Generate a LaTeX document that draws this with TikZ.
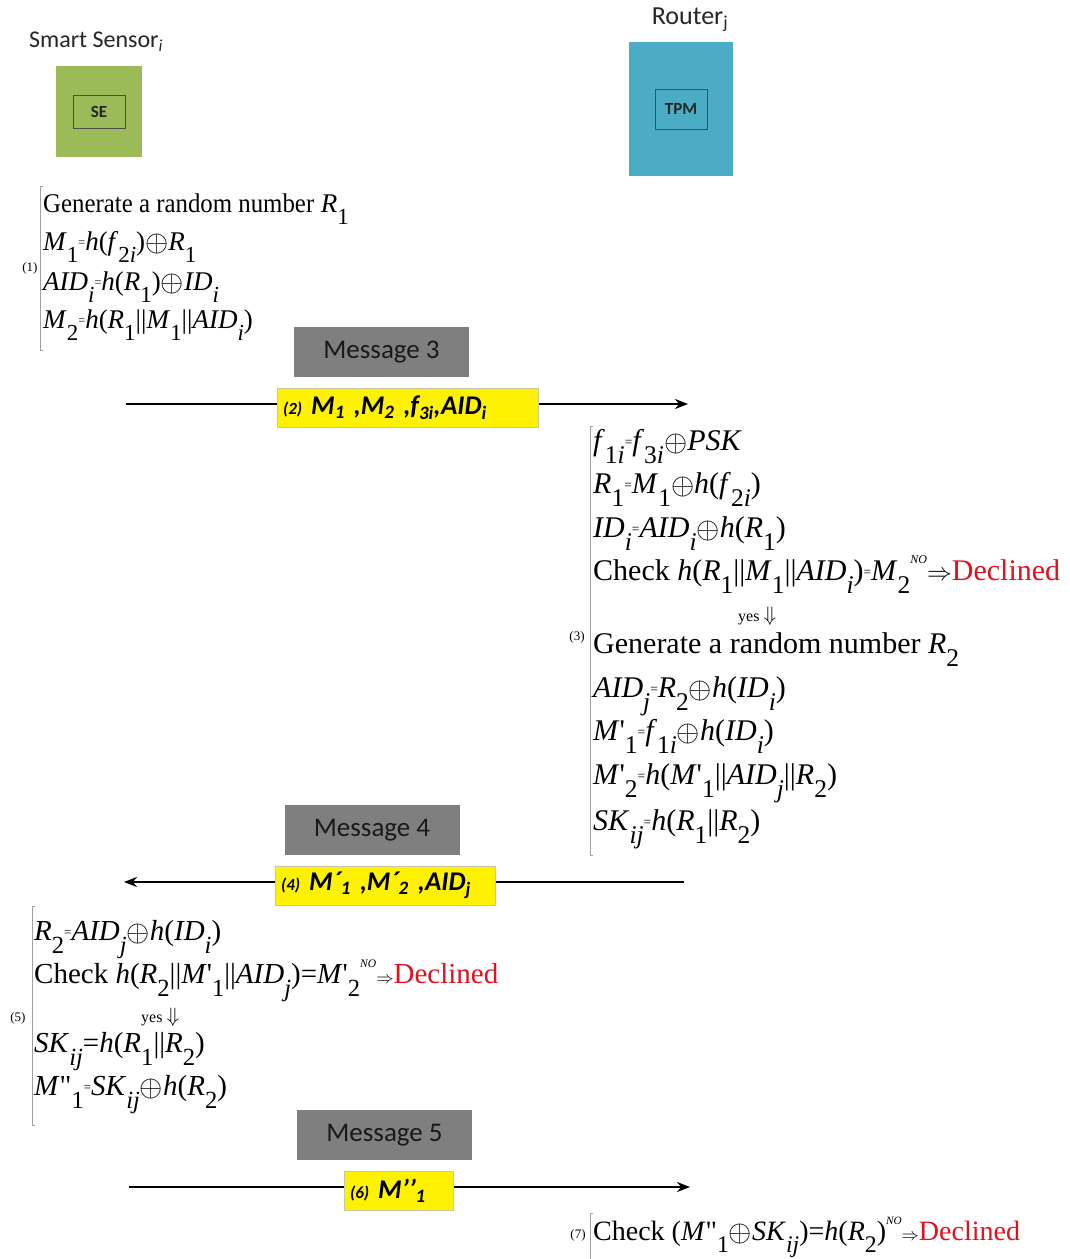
\documentclass[tikz,border=0pt]{standalone}
\usepackage{fontspec}
\usepackage{graphicx}
\setmainfont{Liberation Serif}
\newfontfamily\calfont{Carlito}
\usetikzlibrary{arrows.meta}

\definecolor{sgreen}{HTML}{9BBB59}
\definecolor{rblue}{HTML}{4BACC6}
\definecolor{mgray}{HTML}{7F7F7F}
\definecolor{dred}{HTML}{E3101E}
\definecolor{brk}{HTML}{A0A0A0}
\definecolor{ybord}{HTML}{C8C8A0}

\newcommand\sbx[1]{\raisebox{-0.45em}{\scalebox{0.85}{#1}}}
\newcommand\I[1]{\textit{#1}}
\newcommand\eqs{\raisebox{0.12em}{\scalebox{0.45}{=}}}
\newcommand\xo{\raisebox{-0.04em}{\scalebox{1.2}{$\oplus$}}}
\newcommand\cc{\textbar\textbar}
\newcommand\nod{\raisebox{0.55em}{\scalebox{0.4}{\I{NO}}}}
\newcommand\decl{\textcolor{dred}{Declined}}
\newcommand\pr{\textquotesingle}
\newcommand\dpr{\textquotedbl}
\newcommand\smarr{{\fontsize{16}{16}\selectfont$\Rightarrow$}}

\tikzset{
  lbl/.style={inner sep=0, font=\calfont\fontsize{24}{26}\selectfont, text=black!85},
  gbox/.style={fill=sgreen, inner sep=0, minimum width=86pt, minimum height=91pt},
  bbox/.style={fill=rblue, inner sep=0, minimum width=104pt, minimum height=134pt},
  inbox/.style={draw=black!70, line width=0.8pt, inner sep=0, minimum width=52pt,
    font=\calfont\bfseries\fontsize{17}{18}\selectfont, text=black!85},
  msg/.style={fill=mgray, inner sep=0, minimum width=175pt, minimum height=50pt,
    font=\calfont\fontsize{27}{28}\selectfont, text=black!90},
  ybox/.style={fill=yellow, draw=ybord, line width=0.6pt, inner xsep=6pt, inner ysep=0,
    minimum height=39pt, align=left, font=\calfont\bfseries\itshape\fontsize{27}{28}\selectfont},
  arr/.style={line width=2.6pt, -{Stealth[length=13pt,width=10pt]}},
  fl/.style={anchor=base west, inner sep=0},
  f1/.style={fl, font=\fontsize{27}{30}\selectfont},
  f3/.style={fl, font=\fontsize{30}{34}\selectfont},
  f5/.style={fl, font=\fontsize{29}{33}\selectfont},
  f7/.style={fl, font=\fontsize{28}{32}\selectfont},
  yesn/.style={fl, font=\fontsize{16}{18}\selectfont},
  blab/.style={inner sep=0, font=\fontsize{13}{14}\selectfont},
  brkline/.style={draw=brk, line width=0.8pt}
}

\begin{document}
\begin{tikzpicture}[x=1pt,y=-1pt]
\useasboundingbox[fill=white] (0,0) rectangle (1070,1259);

% participants
\node[lbl] (sstitle) at (96,42) {Smart Sensor\textsubscript{\textit{i}}};
\node[gbox] (sensor) at (99,111.5) {};
\node[inbox, minimum height=33pt] (se) at (99,111.5) {SE};
\node[lbl, font=\calfont\fontsize{26}{28}\selectfont] (rtitle) at (690,20) {Router\textsubscript{j}};
\node[bbox] (router) at (681,109) {};
\node[inbox, minimum height=40pt] (tpm) at (681,109) {TPM};

% block 1
\draw[brkline] (43,186) -- (40,186) -- (40,350) -- (43,350);
\node[blab] (lab1) at (30,268) {(1)};
\node[f1] (a1) at (43,212) {\scalebox{0.92}[1]{Generate a random number} \I{R}\sbx{1}};
\node[f1] (a2) at (43,250) {\I{M}\sbx{1}\eqs\I{h}(\I{f}\sbx{2\I{i}})\xo\I{R}\sbx{1}};
\node[f1] (a3) at (43,290) {\I{AID}\sbx{\I{i}}\eqs\I{h}(\I{R}\sbx{1})\xo\I{ID}\sbx{\I{i}}};
\node[f1] (a4) at (43,328) {\I{M}\sbx{2}\eqs\I{h}(\I{R}\sbx{1}\cc\I{M}\sbx{1}\cc\I{AID}\sbx{\I{i}})};

% message 3
\node[msg] (m3) at (381.5,352) {Message 3};
\coordinate (p1s) at (126,404);
\coordinate (p1e) at (688,404);
\draw[arr] (p1s) -- (p1e);
\node[ybox, text width=249pt] (y1) at (407.5,407.5)
  {{\fontsize{17}{18}\selectfont(2)} M\textsubscript{1} ,M\textsubscript{2} ,f\textsubscript{3i},AID\textsubscript{i}};

% block 3
\draw[brkline] (593,426) -- (590,426) -- (590,855) -- (593,855);
\node[blab] (lab3) at (577,637) {(3)};
\node[f3] (r1) at (593,450) {\I{f}\sbx{1\I{i}}\eqs\I{f}\sbx{3\I{i}}\xo\I{PSK}};
\node[f3] (r2) at (593,493) {\I{R}\sbx{1}\eqs\I{M}\sbx{1}\xo\I{h}(\I{f}\sbx{2\I{i}})};
\node[f3] (r3) at (593,537) {\I{ID}\sbx{\I{i}}\eqs\I{AID}\sbx{\I{i}}\xo\I{h}(\I{R}\sbx{1})};
\node[f3] (r4) at (593,580) {Check \I{h}(\I{R}\sbx{1}\cc\I{M}\sbx{1}\cc\I{AID}\sbx{\I{i}})\eqs\I{M}\sbx{2}\nod$\Rightarrow$\decl};
\node[yesn] (r4y) at (738,621) {yes {\fontsize{22}{22}\selectfont$\Downarrow$}};
\node[f3] (r5) at (593,653) {Generate a random number \I{R}\sbx{2}};
\node[f3] (r6) at (593,697) {\I{AID}\sbx{\I{j}}\eqs\I{R}\sbx{2}\xo\I{h}(\I{ID}\sbx{\I{i}})};
\node[f3] (r7) at (593,740) {\I{M}\pr\sbx{1}\eqs\I{f}\sbx{1\I{i}}\xo\I{h}(\I{ID}\sbx{\I{i}})};
\node[f3] (r8) at (593,784) {\I{M}\pr\sbx{2}\eqs\I{h}(\I{M}\pr\sbx{1}\cc\I{AID}\sbx{\I{j}}\cc\I{R}\sbx{2})};
\node[f3] (r9) at (593,830) {\I{SK}\sbx{\I{ij}}\eqs\I{h}(\I{R}\sbx{1}\cc\I{R}\sbx{2})};

% message 4
\node[msg] (m4) at (372,830) {Message 4};
\coordinate (p2s) at (684,882);
\coordinate (p2e) at (124,882);
\draw[arr] (p2s) -- (p2e);
\node[ybox, text width=208pt] (y2) at (385,885.5)
  {{\fontsize{17}{18}\selectfont(4)} M´\textsubscript{1} ,M´\textsubscript{2} ,AID\textsubscript{j}};

% block 5
\draw[brkline] (35,906) -- (32,906) -- (32,1125) -- (35,1125);
\node[blab] (lab5) at (18,1018) {(5)};
\node[f5] (l1) at (34,940) {\I{R}\sbx{2}\eqs\I{AID}\sbx{\I{j}}\xo\I{h}(\I{ID}\sbx{\I{i}})};
\node[f5] (l2) at (34,983) {Check \I{h}(\I{R}\sbx{2}\cc\I{M}\pr\sbx{1}\cc\I{AID}\sbx{\I{j}})=\I{M}\pr\sbx{2}\nod\smarr\decl};
\node[yesn] (l2y) at (141,1022) {yes {\fontsize{20}{20}\selectfont$\Downarrow$}};
\node[f5] (l3) at (34,1052) {\I{SK}\sbx{\I{ij}}=\I{h}(\I{R}\sbx{1}\cc\I{R}\sbx{2})};
\node[f5] (l4) at (34,1095) {\I{M}\dpr\sbx{1}\eqs\I{SK}\sbx{\I{ij}}\xo\I{h}(\I{R}\sbx{2})};

% message 5
\node[msg] (m5) at (384.5,1135) {Message 5};
\coordinate (p3s) at (129,1187);
\coordinate (p3e) at (690,1187);
\draw[arr] (p3s) -- (p3e);
\node[ybox, text width=97pt] (y3) at (398.5,1190.5)
  {{\fontsize{17}{18}\selectfont(6)} M’’\textsubscript{1}};

% block 7
\draw[brkline] (593,1213) -- (590,1213) -- (590,1259);
\node[blab] (lab7) at (578,1235) {(7)};
\node[f7] (c7) at (593,1240) {Check (\I{M}\dpr\sbx{1}\xo\I{SK}\sbx{\I{ij}})=\I{h}(\I{R}\sbx{2})\nod\smarr\decl};

\end{tikzpicture}
\end{document}
